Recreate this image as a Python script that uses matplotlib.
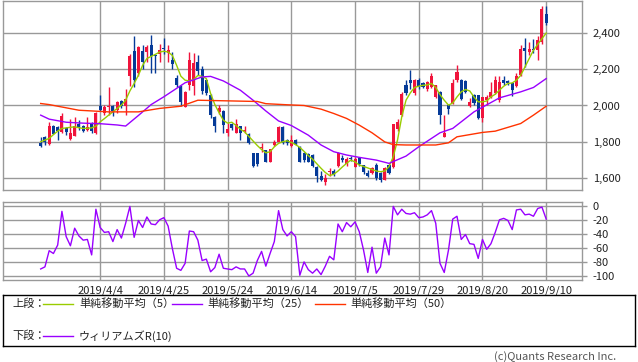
import numpy as np
import matplotlib
matplotlib.use("Agg")
import matplotlib.pyplot as plt

plt.rcParams["font.family"] = ["Noto Sans CJK JP", "DejaVu Sans"]

# daily candles, index 0 = 2019/3/14 ... index 119 = 2019/9/10
opens = [1795, 1828, 1790, 1888, 1880, 1855, 1875, 1815, 1835, 1900,
         1890, 1867, 1905, 1850, 1995, 1958, 1990, 1995, 1975, 2024,
         1998, 2160, 2300, 2180, 2300, 2295, 2335, 2278, 2282, 2316,
         2286, 2252, 2152, 2105, 1994, 2112, 2105, 2238, 2202, 2140,
         2060, 1937, 1966, 1968, 1850, 1900, 1850, 1888, 1862, 1843,
         1738, 1738, 1768, 1755, 1692, 1783, 1801, 1883, 1808, 1775,
         1810, 1770, 1740, 1735, 1728, 1663, 1612, 1577, 1632, 1642,
         1665, 1713, 1678, 1713, 1664, 1710, 1672, 1628, 1631, 1673,
         1628, 1591, 1673, 1664, 1869, 1947, 2111, 2139, 2066, 2142,
         2124, 2088, 2102, 2047, 2075, 1828, 2005, 2014, 2139, 2139,
         2133, 1996, 2060, 2056, 1929, 2029, 2047, 2069, 2029, 2139,
         2133, 2121, 2106, 2166, 2318, 2294, 2312, 2307, 2348, 2504]
highs = [1828, 1835, 1912, 1892, 1887, 1958, 1880, 1925, 1935, 1920,
         1895, 1938, 1910, 1962, 2056, 2000, 2099, 2005, 2025, 2028,
         2093, 2285, 2380, 2325, 2330, 2335, 2385, 2285, 2340, 2370,
         2330, 2295, 2165, 2110, 2080, 2294, 2290, 2280, 2215, 2145,
         2065, 1945, 2000, 1975, 1905, 1905, 1925, 1890, 1887, 1848,
         1740, 1740, 1792, 1758, 1762, 1810, 1885, 1887, 1815, 1837,
         1815, 1775, 1745, 1740, 1732, 1670, 1640, 1625, 1655, 1650,
         1745, 1730, 1715, 1720, 1715, 1715, 1675, 1645, 1660, 1685,
         1632, 1660, 1680, 1900, 1925, 2075, 2140, 2193, 2145, 2150,
         2130, 2135, 2180, 2115, 2080, 1947, 2010, 2145, 2221, 2145,
         2140, 2040, 2065, 2060, 2047, 2055, 2130, 2160, 2160, 2160,
         2140, 2125, 2180, 2330, 2370, 2350, 2365, 2380, 2545, 2545]
lows = [1773, 1782, 1785, 1843, 1812, 1850, 1837, 1812, 1830, 1865,
        1855, 1858, 1850, 1845, 1970, 1950, 1947, 1945, 1960, 1985,
        1947, 2106, 2099, 2160, 2203, 2240, 2179, 2180, 2240, 2285,
        2240, 2200, 2100, 1995, 1990, 2084, 2060, 2165, 2065, 2060,
        1930, 1853, 1955, 1850, 1830, 1868, 1848, 1810, 1850, 1790,
        1660, 1668, 1746, 1688, 1688, 1775, 1798, 1790, 1785, 1770,
        1785, 1688, 1690, 1688, 1660, 1582, 1585, 1565, 1615, 1615,
        1660, 1690, 1670, 1695, 1660, 1670, 1625, 1605, 1625, 1592,
        1582, 1588, 1622, 1655, 1860, 1940, 2060, 2093, 2060, 2093,
        2095, 2080, 2095, 2040, 1901, 1825, 1955, 2010, 2130, 2030,
        2070, 1990, 2005, 1925, 1910, 2000, 2040, 2062, 2020, 2110,
        2115, 2050, 2100, 2160, 2209, 2280, 2290, 2252, 2340, 2440]
closes = [1775, 1797, 1890, 1845, 1859, 1940, 1852, 1847, 1890, 1875,
          1862, 1882, 1858, 1960, 1975, 1990, 1996, 1968, 2020, 1995,
          2035, 2270, 2140, 2320, 2240, 2320, 2270, 2272, 2303, 2310,
          2306, 2228, 2112, 2020, 2075, 2252, 2232, 2190, 2077, 2068,
          1948, 1888, 1985, 1893, 1873, 1876, 1900, 1851, 1866, 1793,
          1670, 1680, 1774, 1692, 1759, 1800, 1880, 1795, 1795, 1810,
          1790, 1691, 1700, 1692, 1665, 1610, 1588, 1600, 1640, 1620,
          1740, 1703, 1704, 1705, 1704, 1678, 1632, 1612, 1654, 1600,
          1591, 1654, 1628, 1898, 1910, 2064, 2069, 2121, 2139, 2106,
          2099, 2130, 2160, 2111, 1947, 1850, 1983, 2124, 2186, 2038,
          2075, 2020, 2011, 1934, 2047, 2047, 2075, 2139, 2130, 2124,
          2121, 2084, 2160, 2312, 2299, 2312, 2306, 2362, 2531, 2453]

ma5 = [1801, 1810, 1819, 1840, 1859, 1874, 1877, 1880, 1883, 1878,
       1874, 1875, 1877, 1887, 1910, 1928, 1947, 1965, 1984, 2002,
       2029, 2080, 2121, 2166, 2221, 2258, 2270, 2281, 2294, 2298,
       2294, 2275, 2221, 2161, 2139, 2135, 2143, 2165, 2160, 2148,
       2066, 2005, 1960, 1919, 1903, 1908, 1890, 1870, 1855, 1830,
       1805, 1780, 1758, 1740, 1746, 1773, 1792, 1801, 1806, 1797,
       1785, 1770, 1748, 1725, 1705, 1680, 1655, 1632, 1615, 1622,
       1640, 1662, 1682, 1700, 1690, 1673, 1665, 1657, 1648, 1640,
       1636, 1640, 1664, 1718, 1810, 1938, 2029, 2069, 2099, 2106,
       2111, 2113, 2121, 2099, 2060, 2029, 2002, 2014, 2047, 2075,
       2088, 2080, 2047, 2020, 2020, 2025, 2047, 2062, 2084, 2106,
       2121, 2124, 2139, 2166, 2212, 2258, 2303, 2336, 2367, 2398]

ma25_idx = [0, 2, 6, 10, 14, 18, 20, 23, 26, 29, 34, 38, 40, 43, 47,
            50, 53, 56, 59, 63, 66, 69, 72, 75, 79, 82, 86, 89, 94, 97,
            102, 108, 113, 116, 119]
ma25 = [1947, 1925, 1908, 1903, 1900, 1893, 1887, 1945, 2005, 2048,
        2125, 2157, 2160, 2135, 2084, 2029, 1970, 1915, 1890, 1837,
        1783, 1746, 1728, 1715, 1700, 1682, 1722, 1773, 1850, 1874,
        1965, 2042, 2075, 2099, 2148]

ma50_idx = [0, 2, 9, 16, 23, 28, 33, 37, 51, 53, 58, 62, 66, 69, 72,
            75, 78, 81, 83, 86, 93, 96, 98, 104, 107, 110, 113, 116, 119]
ma50 = [2011, 2005, 1974, 1965, 1965, 1984, 1996, 2029, 2022, 2010,
        2004, 2000, 1980, 1956, 1929, 1892, 1850, 1800, 1785, 1783,
        1783, 1795, 1828, 1852, 1859, 1880, 1901, 1947, 1996]

willr = [-90, -87, -64, -68, -56, -8, -44, -57, -32, -43,
         -49, -48, -70, -5, -31, -38, -37, -51, -34, -46,
         -25, -1, -45, -21, -31, -16, -26, -27, -20, -17,
         -29, -61, -89, -92, -82, -36, -37, -49, -78, -76,
         -94, -88, -69, -89, -90, -91, -87, -90, -90, -100,
         -96, -78, -65, -86, -68, -51, -7, -34, -43, -37,
         -44, -99, -80, -91, -96, -90, -98, -86, -72, -77,
         -26, -37, -24, -30, -23, -37, -63, -95, -59, -96,
         -87, -46, -70, -1, -13, -5, -11, -12, -10, -17,
         -16, -13, -7, -25, -82, -95, -63, -19, -15, -48,
         -41, -54, -55, -75, -48, -62, -54, -38, -20, -18,
         -21, -34, -6, -5, -13, -12, -15, -4, -2, -19]

tick_idx = [14, 29, 44, 59, 74, 89, 104, 119]
tick_dates = ["2019/4/4", "2019/4/25", "2019/5/24", "2019/6/14",
              "2019/7/5", "2019/7/29", "2019/8/20", "2019/9/10"]
price_ticks = [1600, 1800, 2000, 2200, 2400]
price_labels = ["1,600", "1,800", "2,000", "2,200", "2,400"]
wr_ticks = [0, -20, -40, -60, -80, -100]
wr_labels = ["0", "-20", "-40", "-60", "-80", "-100"]

UP = "#f0143c"
DOWN = "#053a98"
C5 = "#99cc00"
C25 = "#9900ff"
C50 = "#ff3300"
GRID = "#999999"

W, H = 638, 362
fig = plt.figure(figsize=(W / 100, H / 100), dpi=100)


def px_axes(x0, y0, x1, y1):
    return fig.add_axes((x0 / W, 1 - y1 / H, (x1 - x0) / W, (y1 - y0) / H))


ax = px_axes(3.3, 0.5, 582.3, 190.3)
ax_w = px_axes(3.3, 201.7, 582.3, 280)

x = np.arange(len(closes))
o = np.array(opens)
c = np.array(closes)
colors = [UP if cc >= oo else DOWN for oo, cc in zip(o, c)]

for a in (ax, ax_w):
    a.set_xlim(-8.8, 127.5)
    for s in a.spines.values():
        s.set_color(GRID)
        s.set_linewidth(1)
    a.set_xticks(tick_idx)
    a.grid(True, color=GRID, linewidth=1)
    a.set_axisbelow(True)
    a.yaxis.tick_right()
    a.tick_params(axis="y", length=3.5, width=1, color=GRID, pad=4,
                  labelsize=8, labelcolor="#222222")
    a.tick_params(axis="x", length=0, labelsize=8, labelcolor="#222222")

ax.set_ylim(1534, 2577)
ax.set_yticks(price_ticks)
ax.set_yticklabels(price_labels)
ax.set_xticklabels([])

ax.vlines(x, lows, highs, colors=colors, linewidth=1, zorder=2)
body = np.maximum(np.abs(c - o), 3)
ax.bar(x, body, bottom=np.minimum(o, c), width=0.72, color=colors,
       linewidth=0, zorder=3)
ax.plot(x, ma5, color=C5, linewidth=1, zorder=4)
ax.plot(ma25_idx, ma25, color=C25, linewidth=1, zorder=4)
ax.plot(ma50_idx, ma50, color=C50, linewidth=1, zorder=4)

ax_w.set_ylim(-105.7, 5.7)
ax_w.set_yticks(wr_ticks)
ax_w.set_yticklabels(wr_labels)
ax_w.set_xticklabels(tick_dates)
ax_w.tick_params(axis="x", pad=4)
ax_w.plot(x, willr, color=C25, linewidth=1)

# legend box
lg = px_axes(3.3, 295, 635, 346)
lg.set_xticks([])
lg.set_yticks([])
for s in lg.spines.values():
    s.set_color("black")
    s.set_linewidth(1)
lg.set_xlim(3.3, 635)
lg.set_ylim(346, 295)

lg.text(12, 303.5, "上段：", fontsize=8, va="center", color="#222222")
lg.plot([43, 73], [303.5, 303.5], color=C5, linewidth=1)
lg.text(79, 303.5, "単純移動平均（5）", fontsize=8, va="center", color="#222222")
lg.plot([172, 202], [303.5, 303.5], color=C25, linewidth=1)
lg.text(207, 303.5, "単純移動平均（25）", fontsize=8, va="center", color="#222222")
lg.plot([315, 345], [303.5, 303.5], color=C50, linewidth=1)
lg.text(350, 303.5, "単純移動平均（50）", fontsize=8, va="center", color="#222222")
lg.text(12, 336, "下段：", fontsize=8, va="center", color="#222222")
lg.plot([43, 73], [336, 336], color=C25, linewidth=1)
lg.text(79, 336, "ウィリアムズR(10)", fontsize=8, va="center", color="#222222")

fig.text(616 / W, 1 - 357 / H, "(c)Quants Research Inc.", fontsize=8,
         ha="right", va="center", color="#555555")

fig.savefig("out.png", dpi=100)
